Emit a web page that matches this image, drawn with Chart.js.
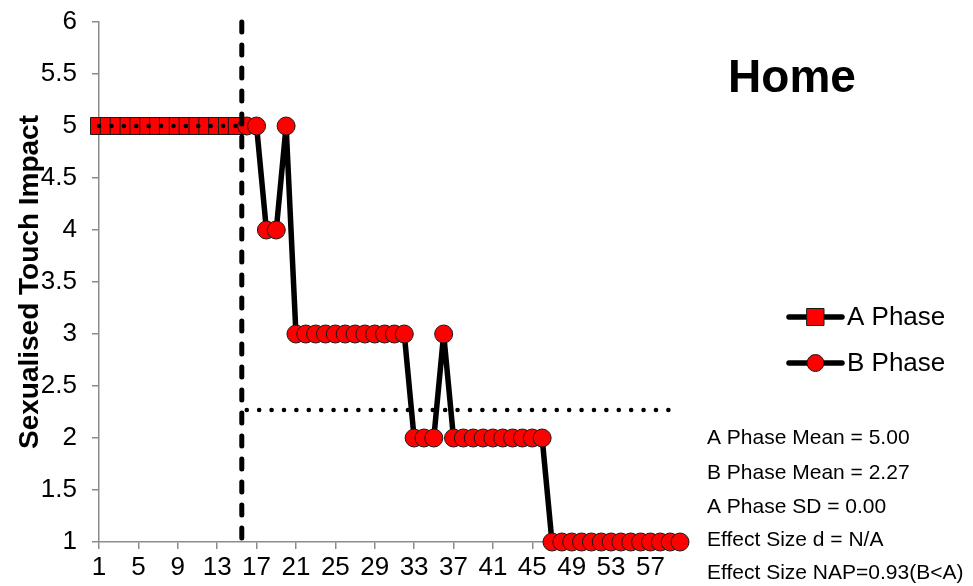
<!DOCTYPE html>
<html>
<head>
<meta charset="utf-8">
<script src="https://cdn.jsdelivr.net/npm/chart.js@4/dist/chart.umd.min.js"></script>
<style>
  body { margin: 0; background: #fff; }
  canvas { display: block; }
</style>
</head>
<body>
<canvas id="homeChart" width="973" height="586"></canvas>
<script>
const xTicks = [1, 5, 9, 13, 17, 21, 25, 29, 33, 37, 41, 45, 49, 53, 57];
const yTicks = [1, 1.5, 2, 2.5, 3, 3.5, 4, 4.5, 5, 5.5, 6];

const aStart = 1;
const aPhase = [5, 5, 5, 5, 5, 5, 5, 5, 5, 5, 5, 5, 5, 5, 5];
const bStart = 16;
const bPhase = [5, 5, 4, 4, 5, 3, 3, 3, 3, 3, 3, 3, 3, 3, 3, 3, 3, 2, 2, 2, 3,
                2, 2, 2, 2, 2, 2, 2, 2, 2, 2, 1, 1, 1, 1, 1, 1, 1, 1, 1, 1, 1, 1, 1, 1];
const phaseChange = 15.5;
const aMean = 5.00;
const bMean = 2.27;

const statLines = [
    'A Phase Mean = 5.00',
    'B Phase Mean = 2.27',
    'A Phase SD = 0.00',
    'Effect Size d = N/A',
    'Effect Size NAP=0.93(B<A)'
];

const FONT = '"Liberation Sans", Arial, sans-serif';
const AXIS = '#8c8c8c';

const toPoints = (vals, start) => vals.map((v, i) => ({ x: start + i, y: v }));
const aEnd = aStart + aPhase.length - 1;
const bEnd = bStart + bPhase.length - 1;

const overlay = {
    id: 'overlay',
    afterDraw(chart) {
        const c = chart.ctx;
        c.save();
        // title
        c.fillStyle = '#000';
        c.font = 'bold 46px ' + FONT;
        c.textAlign = 'center';
        c.textBaseline = 'middle';
        c.fillText('Home', 792, 79);

        // legend
        const items = [
            { label: 'A Phase', y: 317, style: 'rect' },
            { label: 'B Phase', y: 363, style: 'circle' }
        ];
        items.forEach(it => {
            c.strokeStyle = '#000';
            c.lineWidth = 5.5;
            c.lineCap = 'round';
            c.beginPath();
            c.moveTo(789, it.y);
            c.lineTo(842, it.y);
            c.stroke();
            c.fillStyle = '#ff0000';
            c.strokeStyle = '#1a1a1a';
            c.lineWidth = 1;
            c.beginPath();
            if (it.style === 'rect') c.rect(807, it.y - 8.5, 17, 17);
            else c.arc(815.5, it.y, 8.5, 0, Math.PI * 2);
            c.fill();
            c.stroke();
            c.fillStyle = '#000';
            c.font = '26px ' + FONT;
            c.textAlign = 'left';
            c.textBaseline = 'middle';
            c.fillText(it.label, 847, it.y + 1);
        });

        // stats
        c.font = '21px ' + FONT;
        c.textAlign = 'left';
        c.textBaseline = 'middle';
        const ys = [438, 473, 507, 540, 573];
        statLines.forEach((t, i) => c.fillText(t, 707, ys[i]));
        c.restore();
    }
};

new Chart(document.getElementById('homeChart'), {
    type: 'line',
    data: {
        datasets: [
            {
                label: 'Phase change',
                data: [{ x: phaseChange, y: yTicks[yTicks.length - 1] }, { x: phaseChange, y: yTicks[0] }],
                borderColor: '#000',
                borderWidth: 5,
                borderDash: [10, 13],
                borderCapStyle: 'round',
                pointRadius: 0,
                order: 0
            },
            {
                label: 'A Mean',
                data: [{ x: aStart, y: aMean }, { x: aEnd, y: aMean }],
                borderColor: '#000',
                borderWidth: 4.5,
                borderDash: [0.1, 12.3],
                borderCapStyle: 'round',
                pointRadius: 0,
                order: 1
            },
            {
                label: 'B Mean',
                data: [{ x: bStart, y: bMean }, { x: bEnd, y: bMean }],
                borderColor: '#000',
                borderWidth: 4.5,
                borderDash: [0.1, 12.3],
                borderCapStyle: 'round',
                pointRadius: 0,
                order: 1
            },
            {
                label: 'B Phase',
                data: toPoints(bPhase, bStart),
                borderColor: '#000',
                borderWidth: 5.5,
                pointStyle: 'circle',
                pointRadius: 9,
                pointBackgroundColor: '#ff0000',
                pointBorderColor: '#1a1a1a',
                pointBorderWidth: 1,
                order: 2
            },
            {
                label: 'A Phase',
                data: toPoints(aPhase, aStart),
                borderColor: '#000',
                borderWidth: 5.5,
                pointStyle: 'rect',
                pointRadius: 12,
                pointBackgroundColor: '#ff0000',
                pointBorderColor: '#1a1a1a',
                pointBorderWidth: 1,
                order: 3
            }
        ]
    },
    options: {
        responsive: false,
        animation: false,
        clip: false,
        layout: { padding: { left: 0, right: 293, top: 22, bottom: 0 } },
        plugins: {
            legend: { display: false },
            tooltip: { enabled: false }
        },
        scales: {
            x: {
                type: 'linear',
                min: xTicks[0],
                max: bEnd,
                afterBuildTicks: s => { s.ticks = xTicks.map(v => ({ value: v })); },
                afterFit: s => { s.height = 44; s.paddingLeft = 0; s.paddingRight = 0; },
                grid: { drawOnChartArea: false, drawTicks: true, tickLength: 7, color: AXIS, lineWidth: 1.5 },
                border: { color: AXIS, width: 1.5 },
                ticks: { color: '#000', font: { family: FONT, size: 26 }, padding: 3, maxRotation: 0, autoSkip: false }
            },
            y: {
                min: yTicks[0],
                max: yTicks[yTicks.length - 1],
                afterBuildTicks: s => { s.ticks = yTicks.map(v => ({ value: v })); },
                afterFit: s => { s.width = 99; s.paddingTop = 0; s.paddingBottom = 0; },
                grid: { drawOnChartArea: false, drawTicks: true, tickLength: 7, color: AXIS, lineWidth: 1.5 },
                border: { color: AXIS, width: 1.5 },
                ticks: { color: '#000', font: { family: FONT, size: 26 }, padding: 15, callback: v => String(v) },
                title: {
                    display: true,
                    text: 'Sexualised Touch Impact',
                    color: '#000',
                    font: { family: FONT, size: 28, weight: 'bold' },
                    padding: { top: 13, bottom: 0 }
                }
            }
        }
    },
    plugins: [overlay]
});
</script>
</body>
</html>
